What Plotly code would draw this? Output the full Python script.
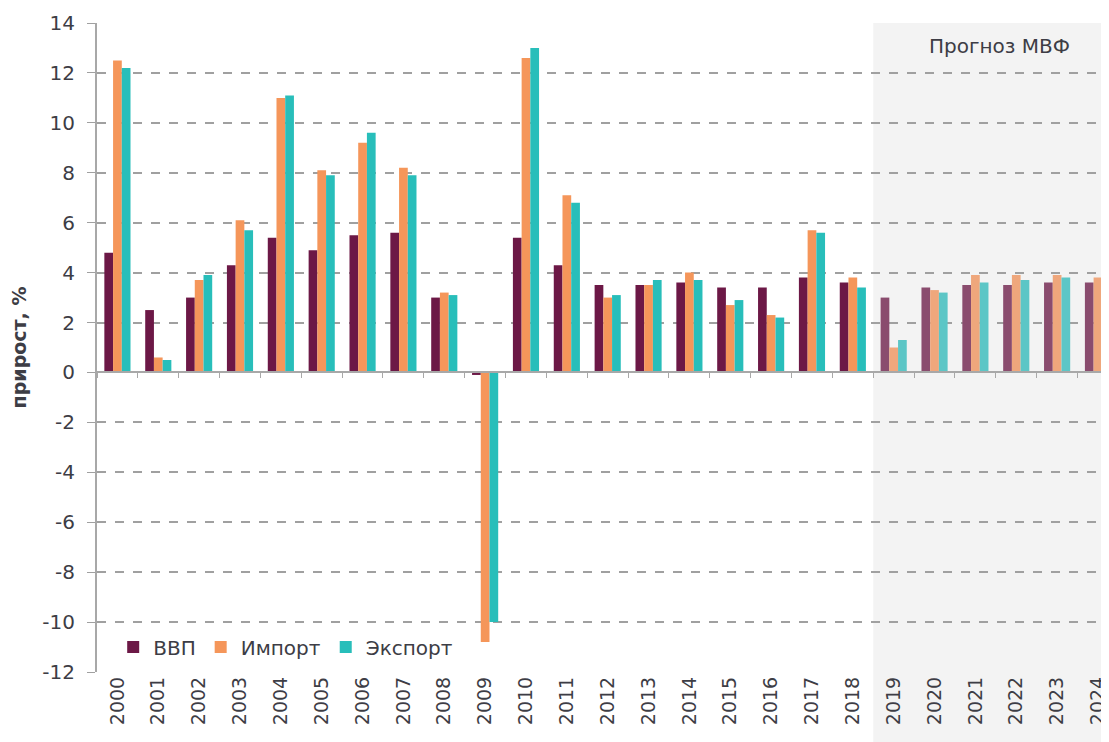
import plotly.graph_objects as go

years = [str(y) for y in range(2000, 2025)]
gdp = [4.8, 2.5, 3.0, 4.3, 5.4, 4.9, 5.5, 5.6, 3.0, -0.1, 5.4, 4.3, 3.5, 3.5, 3.6, 3.4, 3.4, 3.8, 3.6,
       3.0, 3.4, 3.5, 3.5, 3.6, 3.6]
imports = [12.5, 0.6, 3.7, 6.1, 11.0, 8.1, 9.2, 8.2, 3.2, -10.8, 12.6, 7.1, 3.0, 3.5, 4.0, 2.7, 2.3, 5.7, 3.8,
           1.0, 3.3, 3.9, 3.9, 3.9, 3.8]
exports = [12.2, 0.5, 3.9, 5.7, 11.1, 7.9, 9.6, 7.9, 3.1, -10.0, 13.0, 6.8, 3.1, 3.7, 3.7, 2.9, 2.2, 5.6, 3.4,
           1.3, 3.2, 3.6, 3.7, 3.8, 3.7]
first_forecast_year = "2019"
series_names = ["ВВП", "Импорт", "Экспорт"]
y_ticks = list(range(-12, 15, 2))
y_tick_text = [str(v) for v in y_ticks]

hist_colors = ["#6C1846", "#F5965A", "#28BEBA"]
fc_colors = ["#8A4C6E", "#EFA77C", "#5CC6C6"]

fc_start = years.index(first_forecast_year)
idx = list(range(len(years)))
text_color = "#3D3D45"
FONT = "DejaVu Sans"

fig = go.Figure()
for name, vals, hc, fcc in zip(series_names, [gdp, imports, exports], hist_colors, fc_colors):
    cols = [hc if i < fc_start else fcc for i in idx]
    fig.add_trace(go.Bar(x=idx, y=vals, name=name, marker=dict(color=cols, line=dict(width=0)),
                         hoverinfo="x+y"))

# invisible trace to activate zero-line axis
fig.add_trace(go.Scatter(x=[None], y=[None], xaxis="x2", showlegend=False, hoverinfo="skip"))

xr = [-0.5, 24.27]
fig.update_layout(
    width=1101, height=734,
    margin=dict(l=89, r=0, t=15, b=70, autoexpand=False),
    paper_bgcolor="white", plot_bgcolor="rgba(0,0,0,0)",
    barmode="group", bargap=0.36, bargroupgap=0.0,
    font=dict(family=FONT, size=20, color=text_color),
    showlegend=True,
    legend=dict(orientation="h", x=0.016, y=0.0385, xanchor="left", yanchor="middle",
                bgcolor="rgba(0,0,0,0)", font=dict(size=20, color=text_color),
                itemwidth=30, traceorder="normal"),
    xaxis=dict(range=xr, tickmode="array", tickvals=idx, ticktext=years, tickangle=-90,
               showgrid=False, showline=False, ticks="", zeroline=False, automargin=False,
               tickfont=dict(size=19, color=text_color)),
    xaxis2=dict(range=xr, overlaying="x", anchor="free", position=12 / 26, automargin=False,
                showline=True, linecolor="#A8A8A8", linewidth=2,
                ticks="outside", ticklen=5, tickcolor="#A8A8A8", tickwidth=1,
                tickmode="array", tickvals=[k + 0.5 for k in range(-1, 25)],
                showticklabels=False, showgrid=False, zeroline=False),
    yaxis=dict(range=[-12, 14], tickmode="array", tickvals=y_ticks, ticktext=y_tick_text,
               showgrid=True, gridcolor="#A0A0A0", automargin=False,
               griddash="dash", gridwidth=1.5, zeroline=False,
               showline=True, linecolor="#A8A8A8", linewidth=2,
               ticks="outside", ticklen=8, tickcolor="#A0A0A0",
               ticklabelstandoff=8,
               tickfont=dict(size=20, color=text_color),
               title=dict(text="<b>прирост, %</b>", font=dict(size=19, color=text_color), standoff=12)),
    shapes=[dict(type="rect", xref="x", yref="paper", x0=fc_start - 0.5, x1=26, y0=-0.2, y1=1,
                 fillcolor="#F3F3F3", line=dict(width=0), layer="below")],
    annotations=[dict(text="Прогноз МВФ", xref="x", yref="paper", x=fc_start + 2.6, y=0.9646,
                      showarrow=False, font=dict(size=20, color=text_color),
                      xanchor="center", yanchor="middle")],
)

fig.write_html("out.html")
